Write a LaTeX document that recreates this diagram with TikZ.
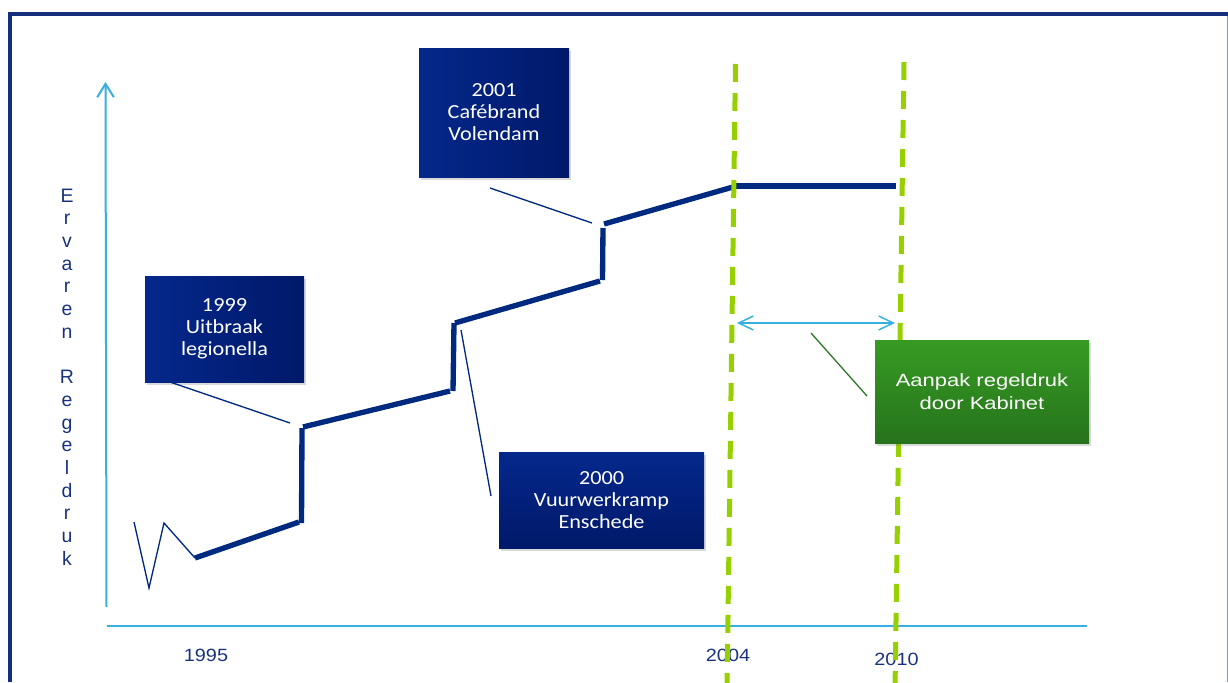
\documentclass[tikz,border=0pt]{standalone}
\usepackage{fontspec}
\setmainfont{Liberation Sans}
\newfontfamily\boxfont[FakeStretch=1.11]{Carlito}
\newfontfamily\yearfont[FakeStretch=1.12]{Liberation Sans}
\usetikzlibrary{arrows.meta,shadows}
\newcommand{\widetext}[1]{\scalebox{1.24}[1]{#1}}
\definecolor{framenavy}{RGB}{20,45,125}
\definecolor{frameright}{RGB}{140,150,185}
\definecolor{linenavy}{RGB}{0,41,128}
\definecolor{axisblue}{RGB}{55,175,225}
\definecolor{labelnavy}{RGB}{25,50,125}
\definecolor{dashgreen}{RGB}{150,208,0}
\definecolor{boxlight}{RGB}{5,40,140}
\definecolor{boxdark}{RGB}{0,25,105}
\definecolor{greentop}{RGB}{55,155,35}
\definecolor{greenbot}{RGB}{38,115,28}
\definecolor{calloutgreen}{RGB}{45,125,40}
\tikzset{
  eventbox/.style={rectangle, inner sep=0pt, align=center, text=white,
    font=\boxfont\fontsize{15}{16.5}\selectfont,
    drop shadow={shadow xshift=1.5pt, shadow yshift=-2.25pt, opacity=0.3}},
  navyh/.style={eventbox, left color=boxlight, right color=boxdark},
  navyv/.style={eventbox, top color=boxlight, bottom color=boxdark},
  greenbox/.style={eventbox, top color=greentop, bottom color=greenbot,
    font=\fontsize{13.3}{17.25}\selectfont},
  trend/.style={linenavy, line width=4pt, line cap=butt},
  thinnavy/.style={linenavy, line width=1pt},
  axisline/.style={axisblue, line width=1.5pt},
  yearlab/.style={text=labelnavy, font=\yearfont\fontsize{13.3}{16}\selectfont, anchor=base},
  ylab/.style={text=labelnavy, font=\fontsize{14.6}{17}\selectfont, anchor=base},
  greendash/.style={dashgreen, line width=3.75pt, dash pattern=on 13.5pt off 8.25pt, line cap=butt},
}
\begin{document}
\begin{tikzpicture}[x=0.75pt,y=-0.75pt]
\useasboundingbox (0,0) rectangle (1228,682);
% frame
\draw[framenavy, line width=3.4pt, line join=miter] (10,682) -- (10,14) -- (1228,14);
\draw[frameright, line width=0.75pt] (1227.3,16) -- (1227.3,682);
% axes
\coordinate (yb) at (106.5,607);
\coordinate (yt) at (105.5,82);
\coordinate (xl) at (107,626);
\coordinate (xr) at (1087,626);
\draw[axisline, -{Straight Barb[length=10pt,width=12.5pt]}] (yb) -- (yt);
\draw[axisline] (xl) -- (xr);
% y label
\foreach \ch [count=\i from 0] in {E,r,v,a,r,e,n,{},R,e,g,e,l,d,r,u,k}
  \node[ylab] (yl\i) at (67,202+22.7*\i) {\ch};
% years
\node[yearlab] (y1995) at (206,661) {1995};
\node[yearlab] (y2004) at (728,661) {2004};
\node[yearlab] (y2010) at (896.5,665) {2010};
% thin zigzag
\coordinate (z1) at (134,522);
\coordinate (z2) at (149,588);
\coordinate (z3) at (164,523);
\coordinate (z4) at (195,558);
\draw[thinnavy, line join=miter] (z1) -- (z2) -- (z3) -- (z4);
% trend line
\coordinate (p1) at (195,558);
\coordinate (p2) at (299,522);
\coordinate (p3) at (301.5,523);
\coordinate (p4) at (302,428);
\coordinate (p5) at (303,427);
\coordinate (p6) at (450,391);
\coordinate (p7) at (453,391);
\coordinate (p8) at (454,323);
\coordinate (p9) at (455,323);
\coordinate (p10) at (600,281);
\coordinate (p11) at (602.5,280);
\coordinate (p12) at (603,228);
\coordinate (p13) at (604,224);
\coordinate (p14) at (733,187);
\coordinate (p15) at (735,186);
\coordinate (p16) at (896,186);
\draw[trend] (p1) -- (p2);
\draw[trend] (p3) -- (p4);
\draw[trend] (p5) -- (p6);
\draw[trend] (p7) -- (p8);
\draw[trend] (p9) -- (p10);
\draw[trend] (p11) -- (p12);
\draw[trend] (p13) -- (p14);
\draw[trend] (p15) -- (p16);
% green dashed lines
\coordinate (d1t) at (735.5,64);
\coordinate (d1b) at (727,690);
\coordinate (d2t) at (904,62);
\coordinate (d2b) at (895,690);
\draw[greendash] (d1t) -- (d1b);
\draw[greendash] (d2t) -- (d2b);
% double arrow
\coordinate (al) at (737,323);
\coordinate (ar) at (895,323);
\draw[axisblue, line width=1.1pt, {Straight Barb[length=11pt,width=10.5pt]}-{Straight Barb[length=11pt,width=10.5pt]}] (al) -- (ar);
% boxes
\node[navyh, minimum width=119.25pt, minimum height=79.5pt] (b1999) at (224.5,329) {1999\\Uitbraak\\legionella};
\node[navyh, minimum width=112.5pt, minimum height=96.75pt] (b2001) at (494,112.5) {2001\\Cafébrand\\Volendam};
\node[navyv, minimum width=153.75pt, minimum height=72pt] (b2000) at (601.5,500) {2000\\Vuurwerkramp\\Enschede};
\node[greenbox, minimum width=160.5pt, minimum height=77.25pt] (bgreen) at (982,391.5) {\widetext{Aanpak regeldruk}\\\widetext{door Kabinet}};
% callout lines
\coordinate (s1999) at (167,381);
\coordinate (c1999) at (290,423);
\coordinate (s2001) at (490,188);
\coordinate (c2001) at (592,223);
\coordinate (c2000) at (461,330);
\coordinate (s2000) at (491,496);
\coordinate (cgreen) at (811,333);
\coordinate (sgreen) at (867,396);
\draw[thinnavy] (s1999) -- (c1999);
\draw[thinnavy] (s2001) -- (c2001);
\draw[thinnavy] (c2000) -- (s2000);
\draw[calloutgreen, line width=1pt] (cgreen) -- (sgreen);
\end{tikzpicture}
\end{document}
